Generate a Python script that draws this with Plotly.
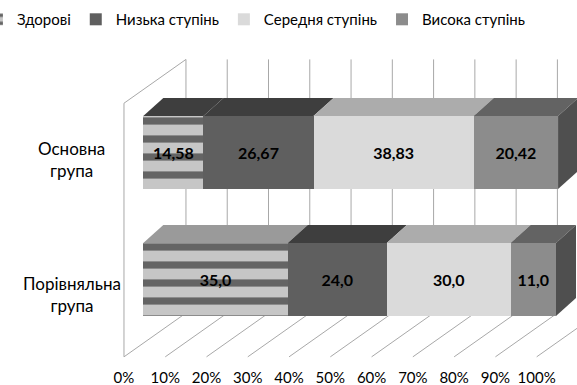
import plotly.graph_objects as go

# ---------------- data ----------------
groups = ["Основна<br>група", "Порівняльна<br>група"]
series = ["Здорові", "Низька ступінь", "Середня ступінь", "Висока ступінь"]
osnovna = [14.58, 26.67, 38.83, 20.42]
porivn = [35.0, 24.0, 30.0, 11.0]
label_decimals = [2, 1]
tick_labels = ["0%", "10%", "20%", "30%", "40%", "50%", "60%", "70%", "80%", "90%", "100%"]
tick_steps = [0, 10, 20, 30, 40, 50, 60, 70, 80, 90, 100]

# ---------------- style ----------------
front_colors = ["#a8a8a8", "#5f5f5f", "#dadada", "#8c8c8c"]
top_colors = ["#3e3e3e", "#3e3e3e", "#acacac", "#636363"]
healthy_top_by_group = ["#3e3e3e", "#9a9a9a"]
side_color = "#4f4f4f"
grid_color = "#a8a8a8"
FONT = "Lato"

y_pos = [1, 0]          # group positions (top, bottom)
BAR_W = 0.575
BDX, BDY = 4.85, 0.142  # bar depth projection
FX = -4.68              # front plane x-offset
WDX, WDY = 15.02, 0.345 # wall depth projection
FLOOR_V = -0.609
TOP_V = 1.389

values_by_group = [osnovna, porivn]

fig = go.Figure()
for s_idx, name in enumerate(series):
    xs = [values_by_group[g][s_idx] for g in range(len(groups))]
    texts = [f"{values_by_group[g][s_idx]:.{label_decimals[g]}f}".replace(".", ",")
             for g in range(len(groups))]
    marker = dict(color=front_colors[s_idx], line=dict(width=0))
    if s_idx == 0:
        marker["pattern"] = dict(shape="-", fgcolor="#646464", bgcolor="#c6c6c6",
                                 size=18, solidity=0.4, fillmode="replace")
    fig.add_trace(go.Bar(
        name=name, x=xs, y=y_pos, orientation="h", width=BAR_W,
        marker=marker, text=texts, textposition="inside",
        insidetextanchor="middle",
        textfont=dict(family=FONT, size=16, color="black", weight="bold"),
        hoverinfo="skip",
    ))

shapes = []
# back wall / floor grid
for t in tick_steps:
    bx = t + FX + WDX
    shapes.append(dict(type="line", xref="x", yref="y", x0=bx, x1=bx,
                       y0=FLOOR_V + WDY, y1=TOP_V + WDY,
                       line=dict(color=grid_color, width=1), layer="below"))
    shapes.append(dict(type="line", xref="x", yref="y", x0=t + FX, x1=bx,
                       y0=FLOOR_V, y1=FLOOR_V + WDY,
                       line=dict(color=grid_color, width=1), layer="below"))
# left wall
shapes.append(dict(type="line", xref="x", yref="y", x0=FX, x1=FX, y0=FLOOR_V, y1=TOP_V,
                   line=dict(color=grid_color, width=1), layer="below"))
shapes.append(dict(type="line", xref="x", yref="y", x0=FX, x1=FX + WDX, y0=TOP_V, y1=TOP_V + WDY,
                   line=dict(color=grid_color, width=1), layer="below"))

# 3D faces of bars
for g, vals in enumerate(values_by_group):
    yc = y_pos[g]
    vt = yc + BAR_W / 2
    vb = yc - BAR_W / 2
    x0 = 0.0
    for s_idx, v in enumerate(vals):
        x1 = x0 + v
        col = healthy_top_by_group[g] if s_idx == 0 else top_colors[s_idx]
        path = (f"M{x0},{vt} L{x1},{vt} L{x1 + BDX},{vt + BDY} "
                f"L{x0 + BDX},{vt + BDY} Z")
        shapes.append(dict(type="path", xref="x", yref="y", path=path,
                           fillcolor=col, line=dict(width=0), layer="below"))
        x0 = x1
    path = (f"M{x0},{vb} L{x0},{vt} L{x0 + BDX},{vt + BDY} "
            f"L{x0 + BDX},{vb + BDY} Z")
    shapes.append(dict(type="path", xref="x", yref="y", path=path,
                       fillcolor=side_color, line=dict(width=0), layer="below"))

annotations = []
for g, label in enumerate(groups):
    annotations.append(dict(x=0.124, xref="paper", y=y_pos[g], yref="y",
                            text=label, showarrow=False, align="center",
                            xanchor="center", yanchor="middle",
                            yshift=-7 if g == 0 else -15,
                            font=dict(family=FONT, size=17, color="black")))

fig.update_layout(
    width=577, height=385,
    margin=dict(l=0, r=0, t=40, b=18, autoexpand=False),
    paper_bgcolor="white", plot_bgcolor="white",
    barmode="stack",
    showlegend=True,
    legend=dict(orientation="h", x=-0.04, xref="paper", y=1.113, yref="paper",
                yanchor="top", xanchor="left", itemwidth=30,
                font=dict(family=FONT, size=15, color="black"),
                bgcolor="rgba(255,255,255,0)",
                traceorder="normal", itemclick=False),
    xaxis=dict(range=[-34.72, 105.09], showgrid=False, zeroline=False, showline=False,
               tickmode="array", tickvals=[t + FX for t in tick_steps], ticktext=tick_labels,
               tickfont=dict(family=FONT, size=15, color="black"), ticks=""),
    yaxis=dict(range=[-0.689, 1.887], showgrid=False, zeroline=False, showline=False,
               showticklabels=False, fixedrange=True),
    shapes=shapes,
    annotations=annotations,
    font=dict(family=FONT),
)

fig.write_html("out.html")
